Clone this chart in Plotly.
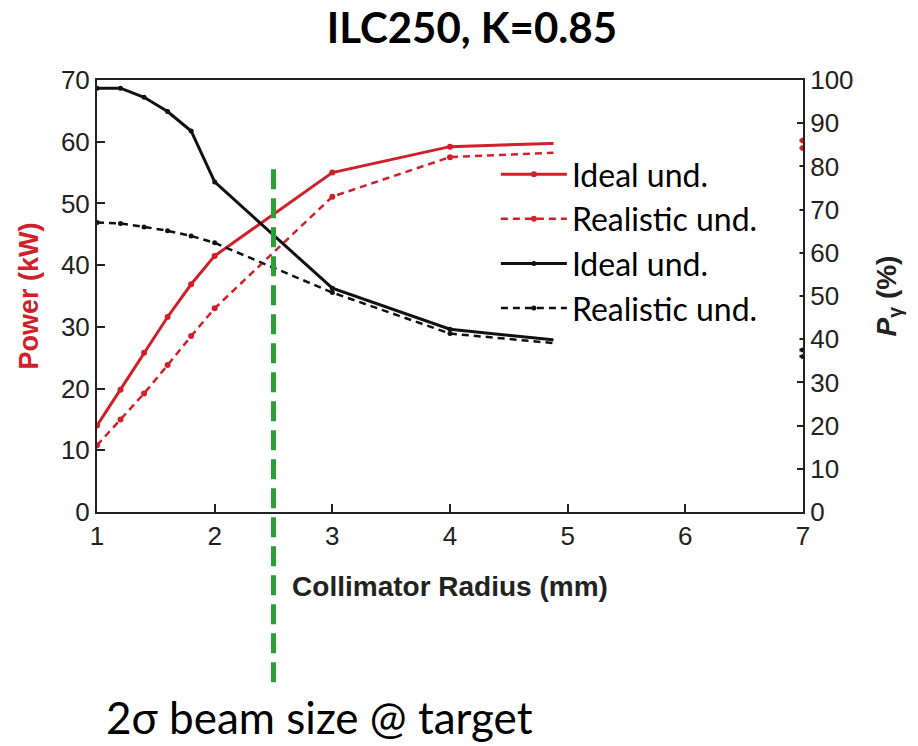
import plotly.graph_objects as go

# ---- data ----
radius = [1.0, 1.2, 1.4, 1.6, 1.8, 2.0, 3.0, 4.0, 5.0, 6.0, 7.0]
power_ideal = [14.0, 19.8, 25.8, 31.6, 36.9, 41.5, 55.0, 59.2, 59.8, 60.0, 60.2]
power_real = [10.8, 15.0, 19.2, 23.8, 28.5, 33.0, 51.1, 57.5, 58.3, 58.7, 59.0]
pol_ideal = [98.1, 98.1, 96.0, 92.7, 88.2, 76.4, 51.8, 42.3, 39.5, 38.3, 37.5]
pol_real = [67.0, 66.8, 66.0, 65.1, 63.9, 62.3, 50.8, 41.3, 38.8, 37.3, 36.0]
beam_2sigma = 2.5

x_ticks = [1, 2, 3, 4, 5, 6, 7]
power_ticks = [0, 10, 20, 30, 40, 50, 60, 70]
pol_ticks = [0, 10, 20, 30, 40, 50, 60, 70, 80, 90, 100]

RED = "#d0202a"
BLACK = "#111111"
GREEN = "#2e9e38"
TICKFONT = dict(family="Liberation Sans, Arial", size=26, color="#222")
AXTITLE = "Liberation Sans, Arial"

fig = go.Figure()
fig.add_trace(go.Scatter(x=radius, y=power_ideal, name="Ideal und.", mode="lines+markers",
                         line=dict(color=RED, width=3), marker=dict(size=6, color=RED), yaxis="y"))
fig.add_trace(go.Scatter(x=radius, y=power_real, name="Realistic und.", mode="lines+markers",
                         line=dict(color=RED, width=2.5, dash="7px,5px"), marker=dict(size=6, color=RED), yaxis="y"))
fig.add_trace(go.Scatter(x=radius, y=pol_ideal, name="Ideal und.", mode="lines+markers",
                         line=dict(color=BLACK, width=3), marker=dict(size=5, color=BLACK), yaxis="y2"))
fig.add_trace(go.Scatter(x=radius, y=pol_real, name="Realistic und.", mode="lines+markers",
                         line=dict(color=BLACK, width=2.5, dash="7px,5px"), marker=dict(size=5, color=BLACK), yaxis="y2"))

# white box behind the legend (hides the curves like in the reference)
fig.add_shape(type="rect", xref="x", yref="paper", x0=4.88, x1=6.97, y0=0.32, y1=0.885,
              fillcolor="white", line=dict(width=0), layer="above")

# green dashed 2-sigma marker extending below the plot
fig.add_shape(type="line", xref="x", yref="paper", x0=beam_2sigma, x1=beam_2sigma, y0=-0.394, y1=0.796,
              line=dict(color=GREEN, width=5, dash="20px,9px"), layer="above")

fig.add_annotation(text="2\u03c3 beam size @ target", xref="paper", yref="paper",
                   x=0.010, y=-0.474, xanchor="left", yanchor="middle", showarrow=False,
                   font=dict(family="Lato, Noto Sans", size=44, color="black"))

fig.update_layout(
    width=918, height=746,
    margin=dict(l=97, r=115, t=80, b=234),
    paper_bgcolor="white", plot_bgcolor="white",
    title=dict(text="<b>ILC250, K=0.85</b>", x=0.514, xanchor="center", y=0.962, yanchor="middle",
               font=dict(family="Lato", size=42, color="black")),
    showlegend=True,
    legend=dict(x=0.565, xanchor="left", y=0.845, yanchor="top", bgcolor="rgba(0,0,0,0)",
                font=dict(family="Lato, Open Sans", size=32, color="black"),
                tracegroupgap=0, itemwidth=66),
    xaxis=dict(range=[1, 7], tickvals=x_ticks, ticks="inside", ticklen=8, tickwidth=2,
               tickcolor="#222", showline=True, linecolor="#222", linewidth=2, mirror=True,
               showgrid=False, zeroline=False, tickfont=TICKFONT,
               title=dict(text="<b>Collimator Radius (mm)</b>", standoff=26,
                          font=dict(family=AXTITLE, size=28, color="#222"))),
    yaxis=dict(range=[0, 70], tickvals=power_ticks, ticks="inside", ticklen=8, tickwidth=2,
               tickcolor="#222", showline=True, linecolor="#222", linewidth=2,
               showgrid=False, zeroline=False, tickfont=TICKFONT,
               title=dict(text="<b>Power (kW)</b>", standoff=14,
                          font=dict(family=AXTITLE, size=27, color=RED))),
    yaxis2=dict(range=[0, 100], tickvals=pol_ticks, overlaying="y", side="right",
                ticks="inside", ticklen=6, tickwidth=2, tickcolor="#222",
                showline=True, linecolor="#222", linewidth=2,
                showgrid=False, zeroline=False, tickfont=TICKFONT,
                title=dict(text="<b><i>P</i><sub>\u03b3</sub> (%)</b>", standoff=24,
                           font=dict(family=AXTITLE, size=28, color="#222"))),
)

fig.write_html("out.html")
